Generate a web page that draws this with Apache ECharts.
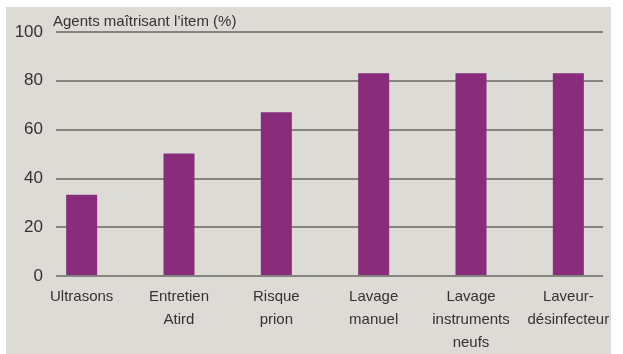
<!DOCTYPE html>
<html>
<head>
<meta charset="utf-8">
<script src="https://cdn.jsdelivr.net/npm/echarts@6/dist/echarts.min.js"></script>
<style>
  html, body { margin: 0; padding: 0; background: #ffffff; }
  #chart { width: 623px; height: 354px; }
</style>
</head>
<body>
<div id="chart"></div>
<script>
// Share of agents mastering each item (%)
const categories = ['Ultrasons', 'Entretien\nAtird', 'Risque\nprion', 'Lavage\nmanuel', 'Lavage\ninstruments\nneufs', 'Laveur-\ndésinfecteur'];
const values = [33, 50, 67, 83, 83, 83];
const yTicks = [0, 20, 40, 60, 80, 100];
const axisTitle = 'Agents maîtrisant l\u2019item (%)';

const FONT = '"Liberation Sans", "DejaVu Sans", sans-serif';

const chart = echarts.init(document.getElementById('chart'), null, { renderer: 'canvas' });

chart.setOption({
  backgroundColor: '#ffffff',
  animation: false,
  graphic: [
    { type: 'rect', z: -10, shape: { x: 6, y: 7, width: 605, height: 347 }, style: { fill: '#dcdbd6' } },
    { type: 'text', left: 53, top: 14, style: { text: axisTitle, font: '15px ' + FONT, fill: '#333333' } }
  ],
  grid: [
    { left: 56, right: 20, top: 32, bottom: 78 },
    { left: 33, right: 6, top: 32, bottom: 78 }
  ],
  xAxis: [
    { gridIndex: 0, type: 'value', min: 0, max: 1, show: false },
    {
      gridIndex: 1, type: 'category', data: categories,
      axisLine: { show: false }, axisTick: { show: false },
      axisLabel: { margin: 10, fontFamily: FONT, fontSize: 15, lineHeight: 23, color: '#333333', interval: 0 }
    }
  ],
  yAxis: [
    {
      gridIndex: 0, type: 'value', min: yTicks[0], max: yTicks[yTicks.length - 1], interval: 20,
      axisLine: { show: false }, axisTick: { show: false },
      axisLabel: { margin: 13, fontFamily: FONT, fontSize: 17, color: '#333333' },
      splitLine: { show: true, lineStyle: { color: '#858580', width: 2 } }
    },
    { gridIndex: 1, type: 'value', min: 0, max: 100, show: false, splitLine: { show: false } }
  ],
  series: [{
    type: 'bar', xAxisIndex: 1, yAxisIndex: 1,
    data: values, barWidth: 31,
    itemStyle: { color: '#882c7b' }
  }]
});
</script>
</body>
</html>
